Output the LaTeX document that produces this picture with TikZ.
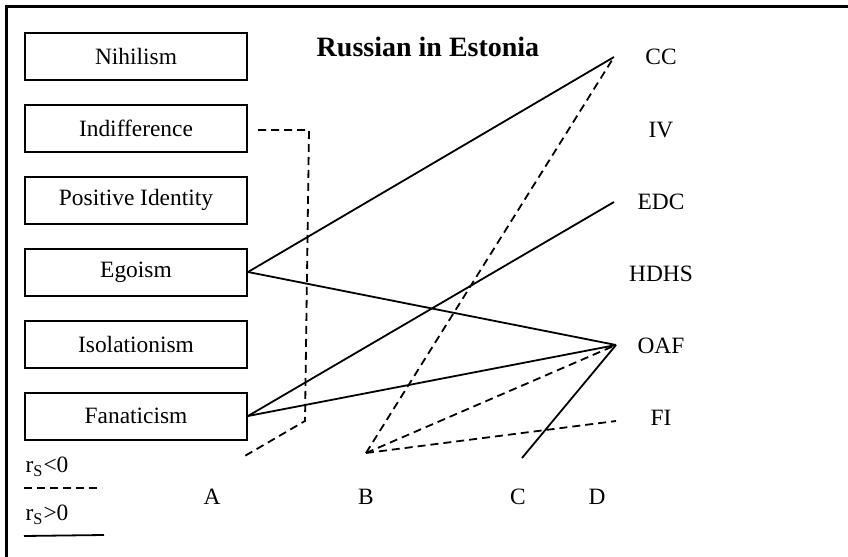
\documentclass[tikz,border=0pt]{standalone}
\usepackage{fontspec}
\setmainfont{Liberation Serif}
\begin{document}
\begin{tikzpicture}[x=0.5pt,y=-0.5pt,
		facteur/.style={draw, line width=1pt, minimum width=111pt, minimum height=23.5pt, inner sep=0pt, font=\fontsize{11.7}{14}\selectfont},
		etiq/.style={font=\fontsize{11.7}{14}\selectfont},
		lienpos/.style={line width=0.9pt},
		lienneg/.style={line width=0.9pt, dash pattern=on 4pt off 2.5pt}]
			\useasboundingbox (0,0) rectangle (848,557);
			\draw[line width=1.5pt] (848,6) -- (6,6) -- (6,557);
			\node[font=\bfseries\fontsize{14}{16}\selectfont] (titre) at (428,47) {Russian in Estonia};
			% facteurs
			\node[facteur] (nih) at (136,56) {Nihilism};
			\node[facteur] (ind) at (136,128) {Indifference};
			\node[facteur] (posid) at (136,200) {Positive Identity};
			\node[facteur] (ego) at (136,272) {Egoism};
			\node[facteur] (iso) at (136,344) {Isolationism};
			\node[facteur] (fan) at (136,416) {Fanaticism};
			% etiquettes a droite
			\node[etiq] (CC) at (661,57) {CC};
			\node[etiq] (IV) at (661,130) {IV};
			\node[etiq] (EDC) at (661,202) {EDC};
			\node[etiq] (HDHS) at (661,274) {HDHS};
			\node[etiq] (OAF) at (661,346) {OAF};
			\node[etiq] (FI) at (661,418) {FI};
			\node[etiq] (A) at (212,497) {A};
			\node[etiq] (B) at (366,497) {B};
			\node[etiq] (C) at (518,497) {C};
			\node[etiq] (D) at (597,497) {D};
			% legende
			\node[etiq] (rneg) at (47,467) {r\textsubscript{S}<0};
			\node[etiq] (rpos) at (47,515) {r\textsubscript{S}>0};
			\coordinate (l1) at (24,488); \coordinate (l2) at (102,488);
			\coordinate (l3) at (24,536); \coordinate (l4) at (104,535);
			\draw[lienneg] (l1) -- (l2);
			\draw[lienpos] (l3) -- (l4);
			% points
			\coordinate (pCC) at (614,57);
			\coordinate (pEDC) at (614,202);
			\coordinate (pOAF) at (616,345);
			\coordinate (pFI) at (616,421);
			\coordinate (pB) at (366,453);
			\coordinate (pC) at (522,458);
			\coordinate (i1) at (258,130); \coordinate (i2) at (309,130);
			\coordinate (i3) at (305,421); \coordinate (i4) at (243,457);
			% liens
			\draw[lienpos] (ego.east) -- (pCC);
			\draw[lienpos] (ego.east) -- (pOAF);
			\draw[lienpos] (fan.east) -- (pEDC);
			\draw[lienpos] (fan.east) -- (pOAF);
			\draw[lienpos] (pC) -- (pOAF);
			\draw[lienneg] (i1) -- (i2) -- (i3) -- (i4);
			\draw[lienneg] (pB) -- (pCC);
			\draw[lienneg] (pB) -- (pOAF);
			\draw[lienneg] (pB) -- (pFI);
		\end{tikzpicture}
\end{document}
